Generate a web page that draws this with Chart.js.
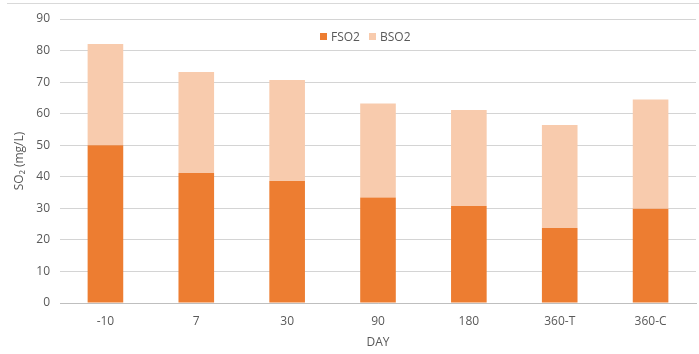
<!DOCTYPE html>
<html>
<head>
<meta charset="utf-8">
<script src="https://cdn.jsdelivr.net/npm/chart.js@4"></script>
<style>
  html, body { margin: 0; padding: 0; background: #fff; }
  .wrap { position: relative; width: 699px; height: 354px; }
  .wrap::before { content: ''; position: absolute; left: 7px; right: 0; top: 3px; border-top: 1px solid #d9d9d9; }
  .legend { position: absolute; left: 320px; top: 28px; display: flex; align-items: center;
            font: 12px 'Open Sans', sans-serif; color: #595959; }
  .legend i { display: inline-block; width: 7px; height: 7px; margin-right: 4px; }
  .legend span { margin-right: 9px; display: flex; align-items: center; }
</style>
</head>
<body>
<div class="wrap">
  <canvas id="c" width="699" height="354"></canvas>
  <div class="legend">
    <span><i style="background:#ED7D31"></i>FSO2</span>
    <span><i style="background:#F8CBAD"></i>BSO2</span>
  </div>
</div>
<script>
// 데이터
const days  = ['-10', '7', '30', '90', '180', '360-T', '360-C'];
const fso2  = [50.0, 41.2, 38.7, 33.4, 30.7, 23.8, 29.9];
const bso2  = [32.1, 32.0, 32.0, 29.8, 30.5, 32.6, 34.6];

const ORANGE = '#ED7D31';
const PEACH  = '#F8CBAD';
const TEXT   = '#595959';

Chart.defaults.font.family = "'Open Sans', sans-serif";
Chart.defaults.font.size   = 12;
Chart.defaults.color       = TEXT;

new Chart(document.getElementById('c'), {
  type: 'bar',
  data: {
    labels: days,
    datasets: [
      { label: 'FSO2', data: fso2, backgroundColor: ORANGE, categoryPercentage: 0.8, barPercentage: 0.49 },
      { label: 'BSO2', data: bso2, backgroundColor: PEACH,  categoryPercentage: 0.8, barPercentage: 0.49 },
    ],
  },
  options: {
    responsive: false,
    animation: false,
    layout: { padding: { left: 0, right: 3, top: 19, bottom: 0 } },
    plugins: { legend: { display: false }, tooltip: { enabled: false } },
    scales: {
      x: {
        stacked: true,
        grid: { display: false },
        border: { color: '#bfbfbf' },
        ticks: { padding: 3 },
        title: { display: true, text: 'DAY', padding: { top: 4 } },
        afterFit: (a) => { a.height = 51; },
      },
      y: {
        stacked: true,
        min: 0,
        max: 90,
        ticks: { stepSize: 10, padding: 10 },
        grid: { color: '#d4d4d4', drawTicks: false },
        border: { display: false },
        title: { display: true, text: 'SO₂ (mg/L)', padding: { top: 12, bottom: 0 } },
        afterFit: (a) => { a.width = 60; },
      },
    },
  },
});
</script>
</body>
</html>
